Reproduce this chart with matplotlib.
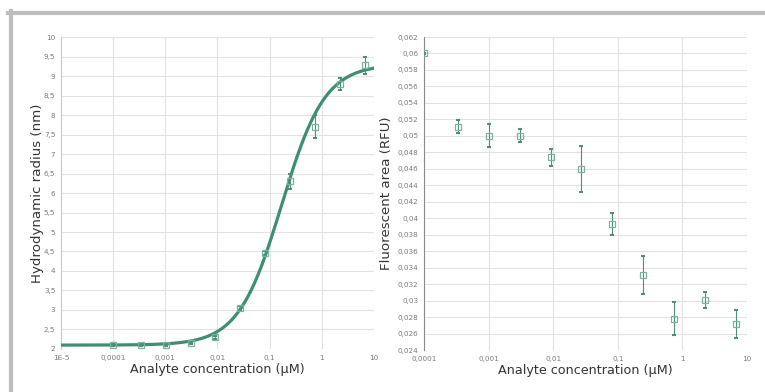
"""Two-panel binding plot: hydrodynamic radius and fluorescent area vs analyte."""

import matplotlib
matplotlib.use("Agg")
import matplotlib.pyplot as plt
import numpy as np
from matplotlib.lines import Line2D
from matplotlib.ticker import FixedLocator, FuncFormatter, NullLocator

# 3-fold dilution series (uM)
conc = [0.0001, 0.000339, 0.00102, 0.00305, 0.00914, 0.0274, 0.0823, 0.247, 0.741, 2.22, 6.67]

radius = [2.10, 2.11, 2.11, 2.15, 2.30, 3.05, 4.45, 6.30, 7.70, 8.80, 9.28]
radius_err = [0.03, 0.03, 0.03, 0.03, 0.04, 0.06, 0.05, 0.20, 0.30, 0.16, 0.22]

# Hill fit parameters for the radius curve
fit_bottom = 2.1
fit_top = 9.3
fit_ec50 = 0.17
fit_hill = 1.05

area = [0.0600, 0.0511, 0.0500, 0.0500, 0.0474, 0.0460, 0.0393, 0.0331, 0.0278, 0.0301, 0.0272]
area_err = [0.0001, 0.0008, 0.0014, 0.0008, 0.0010, 0.0028, 0.0013, 0.0023, 0.0020, 0.0010, 0.0017]

left_xticks = [1e-5, 1e-4, 1e-3, 1e-2, 1e-1, 1, 10]
left_xlabels = ["1E-5", "0,0001", "0,001", "0,01", "0,1", "1", "10"]
right_xticks = [1e-4, 1e-3, 1e-2, 1e-1, 1, 10]
right_xlabels = ["0,0001", "0,001", "0,01", "0,1", "1", "10"]

LINE = "#408d75"
MARK = "#78b39c"
ERR = "#4f8f78"
TICK = "#7a7a7a"
GRID = "#e2e2e2"


def comma(v, _pos=None, digits=1):
    s = f"{v:.{digits}f}".rstrip("0").rstrip(".")
    return s.replace(".", ",")


def style_axes(ax, xticks, xlabels, spine_color):
    ax.set_xscale("log")
    ax.xaxis.set_major_locator(FixedLocator(xticks))
    ax.xaxis.set_minor_locator(NullLocator())
    ax.set_xticks(xticks, xlabels)
    ax.grid(True, color=GRID, linewidth=0.8)
    ax.set_axisbelow(True)
    for side in ("top", "right", "bottom"):
        ax.spines[side].set_visible(False)
    ax.spines["left"].set_color(spine_color)
    ax.spines["left"].set_linewidth(0.8)
    ax.tick_params(length=0, labelsize=5.2, colors=TICK, pad=4)
    ax.set_xlabel("Analyte concentration (µM)", fontsize=9.2, color="#333333", labelpad=2)


fig = plt.figure(figsize=(7.65, 3.92), dpi=100)

# outer grey frame
fig.add_artist(Line2D([0.011, 1.0], [0.968, 0.968], color="#bdbdbd", lw=3))
fig.add_artist(Line2D([0.014, 0.014], [0.0, 0.972], color="#bdbdbd", lw=3))

ax1 = fig.add_axes([0.0797, 0.1097, 0.4092, 0.7959])
style_axes(ax1, left_xticks, left_xlabels, "#c8c8c8")
ax1.set_xlim(1e-5, 10)
ax1.set_ylim(2, 10)
ax1.set_yticks(np.arange(2, 10.01, 0.5))
ax1.yaxis.set_major_formatter(FuncFormatter(lambda v, p: comma(v, p, 1)))
ax1.set_ylabel("Hydrodynamic radius (nm)", fontsize=9.6, color="#333333", labelpad=0)

xs = np.logspace(-5, 1, 400)
fit = fit_bottom + (fit_top - fit_bottom) / (1 + (fit_ec50 / xs) ** fit_hill)
ax1.plot(xs, fit, color=LINE, lw=2.3, zorder=3, solid_capstyle="round")
ax1.errorbar(conc, radius, yerr=radius_err, fmt="none", ecolor=ERR, elinewidth=0.8,
             capsize=1.2, capthick=1.5, zorder=4)
ax1.plot(conc, radius, "s", ms=5, mfc="none", mec=MARK, mew=0.9, zorder=5)

ax2 = fig.add_axes([0.5542, 0.1071, 0.4222, 0.7985])
style_axes(ax2, right_xticks, right_xlabels, "#8a8a8a")
ax2.set_xlim(1e-4, 10)
ax2.set_ylim(0.024, 0.062)
ax2.set_yticks(np.arange(0.024, 0.0621, 0.002))
ax2.yaxis.set_major_formatter(FuncFormatter(lambda v, p: comma(v, p, 3)))
ax2.set_ylabel("Fluorescent area (RFU)", fontsize=9.6, color="#333333", labelpad=3)

ax2.errorbar(conc, area, yerr=area_err, fmt="none", ecolor=ERR, elinewidth=0.8,
             capsize=1.2, capthick=1.5, zorder=4)
ax2.plot(conc, area, "s", ms=5, mfc="none", mec=MARK, mew=0.9, zorder=5)

fig.savefig("out.png", dpi=100, facecolor="white")
